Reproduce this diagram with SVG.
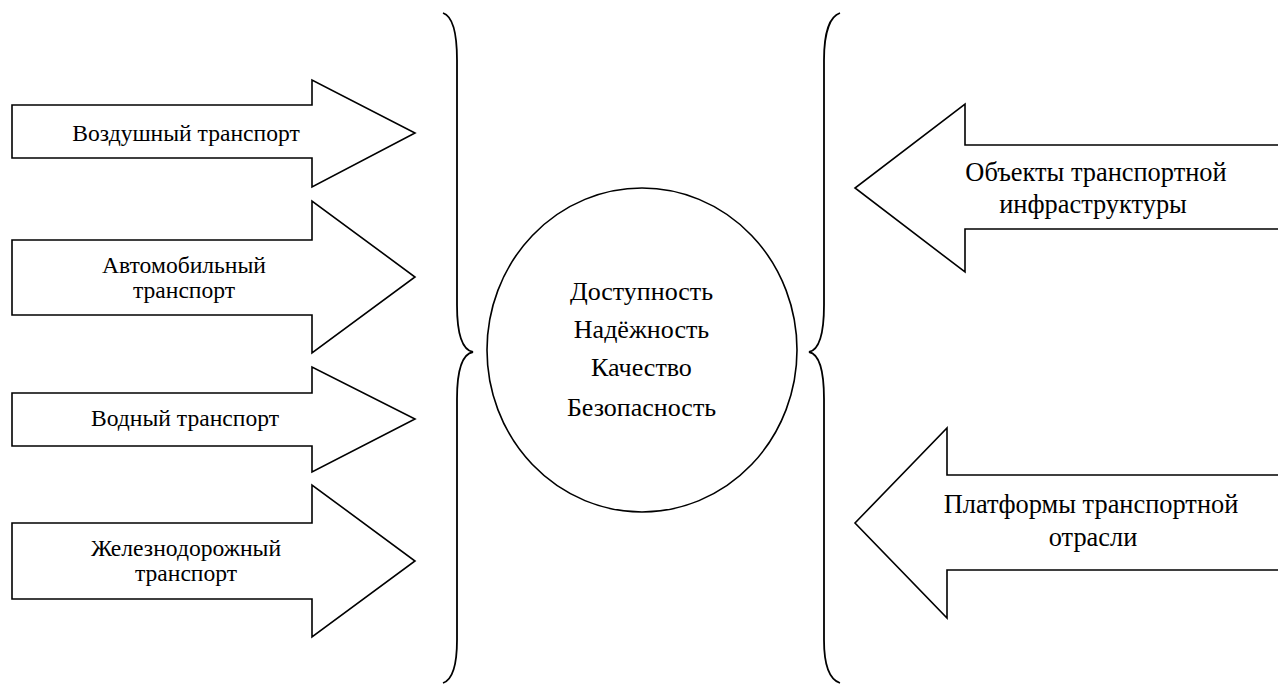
<svg xmlns="http://www.w3.org/2000/svg" width="1278" height="684" viewBox="0 0 1278 684">
  <style>
    .shape { fill: #ffffff; stroke: #000000; stroke-width: 1.6; stroke-linejoin: miter; }
    .brace { fill: none; stroke: #000000; stroke-width: 1.8; }
    text { font-family: "Times New Roman", "Liberation Serif", "DejaVu Serif", serif; fill: #000000; text-anchor: middle; }
    .lbl { font-size: 23.6px; }
    .lbl-r { font-size: 26.4px; }
    .core { font-size: 26px; }
  </style>
  <rect width="1278" height="684" fill="#ffffff"/>

  <!-- transport modes: block arrows pointing right -->
  <g id="air">
    <path class="shape" d="M12,105 H312 V80 L415,133 L312,187 V158 H12 Z"/>
    <text class="lbl" x="186" y="141">Воздушный транспорт</text>
  </g>
  <g id="road">
    <path class="shape" d="M12,240 H312 V201 L415,277 L312,353 V315 H12 Z"/>
    <text class="lbl" x="184" y="273">Автомобильный</text>
    <text class="lbl" x="184" y="298">транспорт</text>
  </g>
  <g id="water">
    <path class="shape" d="M12,393 H312 V367 L415,419 L312,472 V446 H12 Z"/>
    <text class="lbl" x="185" y="426">Водный транспорт</text>
  </g>
  <g id="rail">
    <path class="shape" d="M12,523 H312 V485 L415,561 L312,637 V599 H12 Z"/>
    <text class="lbl" x="186" y="556">Железнодорожный</text>
    <text class="lbl" x="186" y="581">транспорт</text>
  </g>

  <!-- central requirements -->
  <g id="core">
    <ellipse class="shape" cx="642" cy="350" rx="155" ry="162"/>
    <text class="core" x="641.5" y="300">Доступность</text>
    <text class="core" x="641.5" y="338">Надёжность</text>
    <text class="core" x="641.5" y="376">Качество</text>
    <text class="core" x="641.5" y="416">Безопасность</text>
  </g>

  <!-- infrastructure: block arrows pointing left -->
  <g id="infrastructure">
    <path class="shape" d="M1280,145 H965 V104 L855,188 L965,272 V229 H1280"/>
    <text class="lbl-r" x="1096" y="181">Объекты транспортной</text>
    <text class="lbl-r" x="1093" y="213">инфраструктуры</text>
  </g>
  <g id="platforms">
    <path class="shape" d="M1280,475 H947 V428 L855,523 L947,618 V570 H1280"/>
    <text class="lbl-r" x="1091" y="513">Платформы транспортной</text>
    <text class="lbl-r" x="1093" y="546">отрасли</text>
  </g>

  <!-- grouping braces -->
  <g id="connectors">
    <path class="brace" d="M443,13 C452,16 457,30 457,60 V305 C457,335 462,350 473,352 C462,354 457,369 457,399 V640 C457,668 452,680 443,683"/>
    <path class="brace" d="M840,13 C831,16 824,30 824,60 V305 C824,335 819,350 809,352 C819,354 824,369 824,399 V640 C824,668 831,680 840,683"/>
  </g>
</svg>
